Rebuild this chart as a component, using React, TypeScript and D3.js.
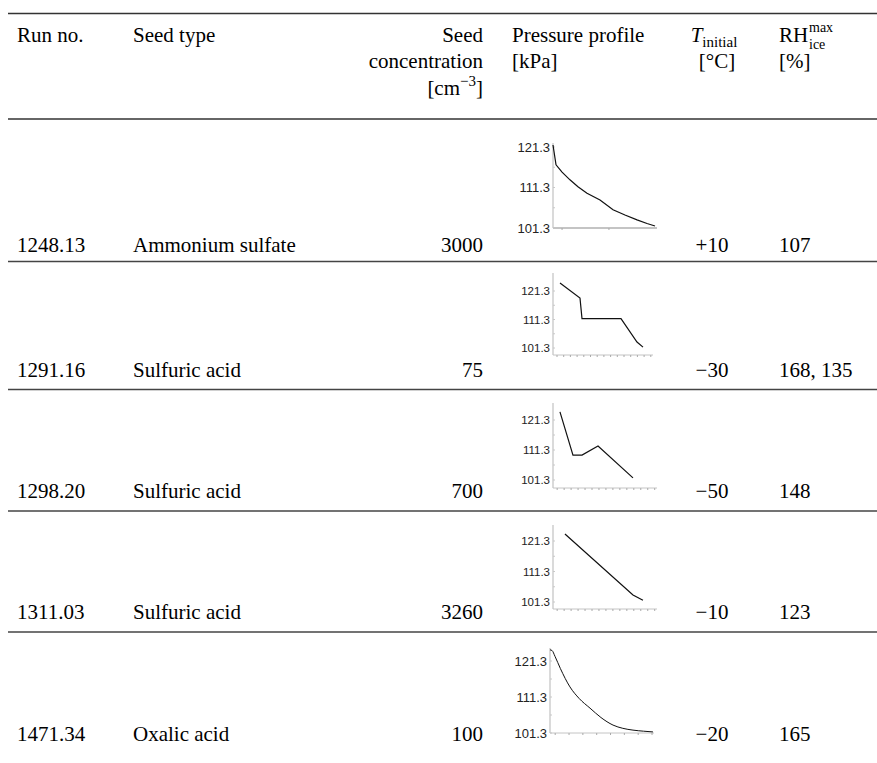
import React from "react";
import * as d3 from "d3";

// ---------- data ----------
const runNos = ["1248.13", "1291.16", "1298.20", "1311.03", "1471.34"];
const seedTypes = ["Ammonium sulfate", "Sulfuric acid", "Sulfuric acid", "Sulfuric acid", "Oxalic acid"];
const seedConc = ["3000", "75", "700", "3260", "100"];
const tInitial = ["+10", "\u221230", "\u221250", "\u221210", "\u221220"];
const rhIceMax = ["107", "168, 135", "148", "123", "165"];
const pressureTicks = [121.3, 111.3, 101.3];

// pressure profiles: time (normalised 0-100) and pressure [kPa]
const time1 = [0, 2.9, 8.7, 16.3, 24, 32.7, 45.2, 57.7, 69.2, 80.8, 90.4, 98.1];
const pres1 = [121.8, 116.9, 115.1, 113.2, 111.5, 109.9, 108.2, 105.8, 104.5, 103.3, 102.4, 101.8];
const time2 = [7, 27, 29, 68, 84, 90];
const pres2 = [124.1, 118.8, 111.6, 111.6, 103.4, 101.6];
const time3 = [6.7, 19.2, 27.9, 43.3, 76.9];
const pres3 = [124.0, 109.6, 109.6, 112.6, 102.0];
const time4 = [11.5, 76.9, 86.5];
const pres4 = [123.6, 103.6, 101.9];
const time5 = [0, 2, 4.8, 10, 19.2, 28, 38.5, 49, 60.6, 70, 79.8, 90, 99];
const pres5 = [124.4, 124.2, 122.6, 119.2, 114.1, 110.9, 108.2, 105.6, 103.5, 102.6, 102.1, 101.8, 101.6];

const profiles = [
  { t: time1, p: pres1 },
  { t: time2, p: pres2 },
  { t: time3, p: pres3 },
  { t: time4, p: pres4 },
  { t: time5, p: pres5 },
];

// ---------- layout ----------
const W = 877;
const H = 763;
const FONT = "'Liberation Serif', 'Times New Roman', serif";
const SANS = "'Liberation Sans', Arial, sans-serif";
const FS = 21;
const FS_SMALL = 15;
const FS_SCRIPT = 14;

const colRun = 17;
const colSeed = 133;
const colConcR = 483;
const colPres = 512;
const colTC = 712;
const colRH = 779;

const topRuleY = 13.5;
const headRuleY = 119;
const headBase = [42, 68, 95];
const rowRules = [261.5, 389.5, 511, 632];
const rowBase = [252, 377, 498, 619, 741];

// sparkline boxes
const sparks = [
  { x0: 553, x1: 657, yT: 147, yB: 228, axisY: 228, top: 143, fs: 13, ticks: [8.7, 53.8], curve: "linear", sw: 1.2, axisW: 2 },
  { x0: 553, x1: 653, yT: 291, yB: 348, axisY: 355, top: 273, fs: 11.5, ticks: d3.range(4, 100, 6.7), curve: "linear", sw: 1.2, axisW: 1 },
  { x0: 553, x1: 657, yT: 420, yB: 480, axisY: 488, top: 403, fs: 11.5, ticks: d3.range(4, 100, 6.7), curve: "linear", sw: 1.2, axisW: 1 },
  { x0: 553, x1: 657, yT: 541, yB: 602, axisY: 609, top: 525, fs: 11.5, ticks: d3.range(4, 100, 6.7), curve: "linear", sw: 1.2, axisW: 1 },
  { x0: 550, x1: 654, yT: 661, yB: 733, axisY: 733, top: 648, fs: 13, ticks: d3.range(5, 100, 13.3), curve: "monotone", sw: 1, axisW: 1 },
];

function Spark({ i }: { i: number }) {
  const s = sparks[i];
  const prof = profiles[i];
  const x = d3.scaleLinear().domain([0, 100]).range([s.x0, s.x1]);
  const y = d3.scaleLinear().domain([101.3, 121.3]).range([s.yB, s.yT]);
  const pts = prof.t.map((t, k) => [t, prof.p[k]] as [number, number]);
  const line = d3
    .line<[number, number]>()
    .x((d) => x(d[0]))
    .y((d) => y(d[1]))
    .curve(s.curve === "monotone" ? d3.curveMonotoneX : d3.curveLinear);
  const minor = d3.range(101.3, 124.4, 5);
  return (
    <g>
      <line x1={s.x0} x2={s.x0} y1={s.top} y2={s.axisY} stroke="#b5b5b5" strokeWidth={1} />
      {minor.map((v, k) => (
        <line key={k} x1={s.x0} x2={s.x0 + 2} y1={y(v)} y2={y(v)} stroke="#c8c8c8" strokeWidth={1} />
      ))}
      <line x1={s.x0} x2={s.x1} y1={s.axisY} y2={s.axisY} stroke="#c4c4c4" strokeWidth={s.axisW} />
      {s.ticks.map((t, k) => (
        <line key={k} x1={x(t)} x2={x(t)} y1={s.axisY} y2={s.axisY + 2} stroke="#aaa" strokeWidth={1} />
      ))}
      {pressureTicks.map((v, k) => (
        <text
          key={k}
          x={s.x0 - 3}
          y={y(v)}
          dy="0.35em"
          textAnchor="end"
          fontFamily={SANS}
          fontSize={s.fs}
          fill="#222"
        >
          {v.toFixed(1)}
        </text>
      ))}
      <path d={line(pts) || ""} fill="none" stroke="#111" strokeWidth={s.sw} />
    </g>
  );
}

export default function App() {
  return (
    <svg width={W} height={H} style={{ display: "block", position: "absolute", left: 0, top: 0 }}>
      <rect width={W} height={H} fill="#fff" />
      <g fontFamily={FONT} fontSize={FS} fill="#000">
        {/* rules */}
        <line x1={8} x2={W} y1={topRuleY} y2={topRuleY} stroke="#333" strokeWidth={1.6} />
        <line x1={8} x2={W} y1={headRuleY} y2={headRuleY} stroke="#333" strokeWidth={1.6} />
        {rowRules.map((yy, k) => (
          <line key={k} x1={8} x2={W} y1={yy} y2={yy} stroke="#444" strokeWidth={1.4} />
        ))}

        {/* header */}
        <text x={colRun} y={headBase[0]}>Run no.</text>
        <text x={colSeed} y={headBase[0]}>Seed type</text>
        <text x={colConcR} y={headBase[0]} textAnchor="end">Seed</text>
        <text x={colConcR} y={headBase[1]} textAnchor="end">concentration</text>
        <text x={colConcR} y={headBase[2]} textAnchor="end">
          [cm<tspan dy={-9} fontSize={FS_SMALL}>{"\u22123"}</tspan>
          <tspan dy={9}>]</tspan>
        </text>
        <text x={colPres} y={headBase[0]}>Pressure profile</text>
        <text x={colPres} y={headBase[1]}>[kPa]</text>
        <text x={colTC + 2} y={headBase[0]} textAnchor="middle">
          <tspan fontStyle="italic">T</tspan>
          <tspan dy={5} fontSize={FS_SMALL}>initial</tspan>
        </text>
        <text x={colTC + 5} y={headBase[1]} textAnchor="middle">[°C]</text>
        <text x={colRH} y={headBase[0]}>RH</text>
        <text x={colRH + 30} y={headBase[0] - 10} fontSize={FS_SCRIPT}>max</text>
        <text x={colRH + 30} y={headBase[0] + 7} fontSize={FS_SCRIPT}>ice</text>
        <text x={colRH} y={headBase[1]}>[%]</text>

        {/* rows */}
        {runNos.map((r, i) => (
          <g key={i}>
            <text x={colRun} y={rowBase[i]}>{r}</text>
            <text x={colSeed} y={rowBase[i]}>{seedTypes[i]}</text>
            <text x={colConcR} y={rowBase[i]} textAnchor="end">{seedConc[i]}</text>
            <text x={colTC} y={rowBase[i]} textAnchor="middle">{tInitial[i]}</text>
            <text x={colRH} y={rowBase[i]}>{rhIceMax[i]}</text>
            <Spark i={i} />
          </g>
        ))}
      </g>
    </svg>
  );
}
